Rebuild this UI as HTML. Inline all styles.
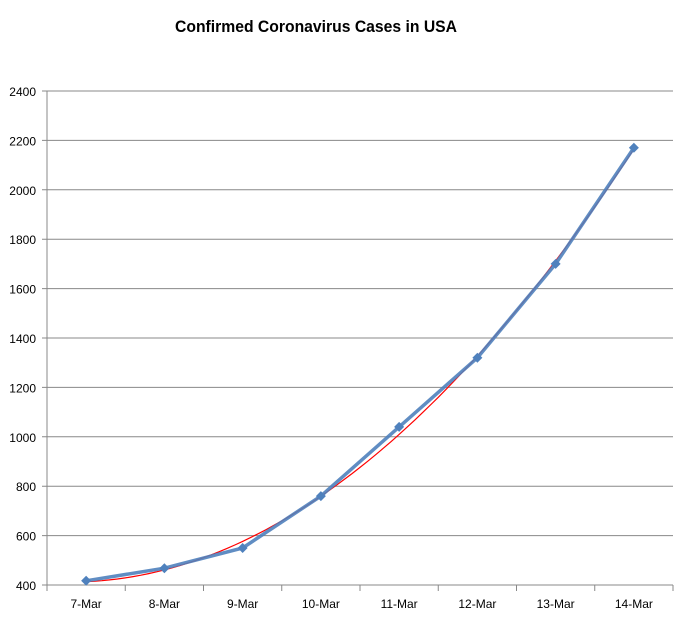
<!DOCTYPE html>
<html><head><meta charset="utf-8"><style>
body{margin:0;background:#fff}
svg text{font-family:"Liberation Sans",Calibri,sans-serif}
</style></head><body>
<svg id="chart" width="687" height="627">
<text x="175" y="32" textLength="282" lengthAdjust="spacingAndGlyphs" font-size="17" font-weight="bold" fill="#000">Confirmed Coronavirus Cases in USA</text>
<g id="grid"></g><g id="axes"></g><g id="series"></g>
</svg>
<script>
const categories=["7-Mar","8-Mar","9-Mar","10-Mar","11-Mar","12-Mar","13-Mar","14-Mar"];
const cases=[417,468,550,760,1040,1320,1700,2170];
const yTicks=[400,600,800,1000,1200,1400,1600,1800,2000,2200,2400];
const L=47,R=673,T=91,B=585,yMin=400,yMax=2400;
const ns="http://www.w3.org/2000/svg";
const bw=(R-L)/categories.length;
const xS=i=>L+bw*(i+0.5);
const yS=v=>B-(v-yMin)/(yMax-yMin)*(B-T);
function mk(tag,attrs,parent){const e=document.createElementNS(ns,tag);for(const k in attrs)e.setAttribute(k,attrs[k]);document.getElementById(parent).appendChild(e);return e;}
yTicks.forEach(v=>{
  const l=mk('line',{x1:L-5,x2:R,y1:yS(v),y2:yS(v),stroke:'#888','stroke-width':1},'grid');
  
  
  const t=mk('text',{x:36,y:yS(v)+5,'text-anchor':'end','font-size':12,fill:'#000'},'axes');
  t.textContent=v;
  
  
});
const ya=mk('line',{x1:L,x2:L,y1:T,y2:B,stroke:'#888'},'axes');


for(let i=0;i<=categories.length;i++){
  const tk=mk('line',{x1:L+bw*i,x2:L+bw*i,y1:B,y2:B+6,stroke:'#888'},'axes');
  
  
}
categories.forEach((c,i)=>{
  const t=mk('text',{x:xS(i),y:608,'text-anchor':'middle','font-size':12,fill:'#000'},'axes');
  t.textContent=c;
  
  
});
(function(){
  const n=cases.length;let S=[0,0,0,0,0],Sy=[0,0,0];
  for(let i=0;i<n;i++){const x=i+1;for(let k=0;k<5;k++)S[k]+=Math.pow(x,k);for(let k=0;k<3;k++)Sy[k]+=cases[i]*Math.pow(x,k);}
  const M=[[S[0],S[1],S[2],Sy[0]],[S[1],S[2],S[3],Sy[1]],[S[2],S[3],S[4],Sy[2]]];
  for(let i=0;i<3;i++){for(let j=i+1;j<3;j++){const f=M[j][i]/M[i][i];for(let k=i;k<4;k++)M[j][k]-=f*M[i][k];}}
  const c=[0,0,0];for(let i=2;i>=0;i--){let s=M[i][3];for(let k=i+1;k<3;k++)s-=M[i][k]*c[k];c[i]=s/M[i][i];}
  let d='';for(let s=0;s<=70;s++){const x=1+s*(n-1)/70;const v=c[0]+c[1]*x+c[2]*x*x;d+=(s?'L':'M')+xS(x-1).toFixed(1)+','+yS(v).toFixed(1);}
  const p=mk('path',{d:d,fill:'none',stroke:'#ff0000','stroke-width':1.2},'series');
  
  
})();
const ld=cases.map((v,i)=>(i?'L':'M')+xS(i)+','+yS(v)).join('');
const line=mk('path',{d:ld,fill:'none',stroke:'#4f81bd','stroke-width':3.5,'stroke-opacity':0.9},'series');


cases.forEach((v,i)=>{
  const x=xS(i),y=yS(v);
  const m=mk('polygon',{points:`${x},${y-5} ${x+5},${y} ${x},${y+5} ${x-5},${y}`,fill:'#4f81bd'},'series');
  
  
});
</script>
</body></html>
